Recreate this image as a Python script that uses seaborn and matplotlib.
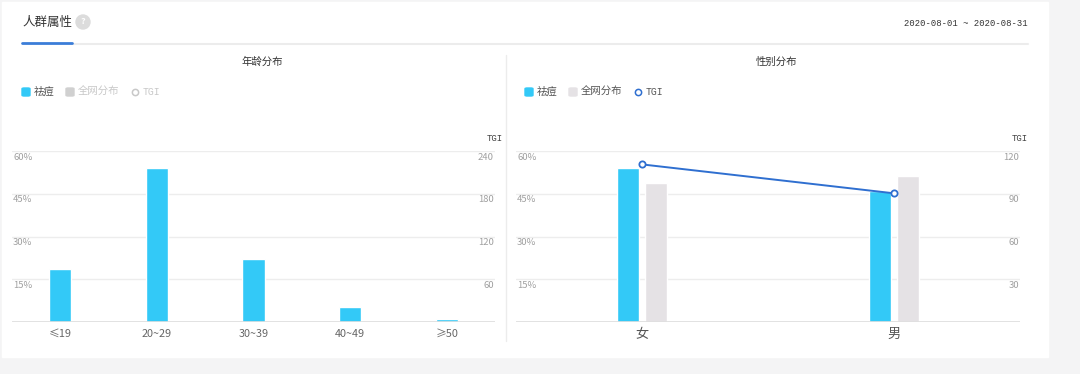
import seaborn as sns
import matplotlib.pyplot as plt
import matplotlib.patches as mpatches
import pandas as pd

# data
age_groups = ['≤19', '20~29', '30~39', '40~49', '≥50']
age_share = [18.6, 53.9, 22.0, 5.2, 0.9]

genders = ['女', '男']
gender_share = [54.2, 45.8]
gender_all = [48.9, 51.1]
gender_tgi = [110.6, 90.3]

pct_ticks = [15, 30, 45, 60]
tgi_ticks_age = [60, 120, 180, 240]
tgi_ticks_gender = [30, 60, 90, 120]

BLUE = '#33c9f7'
GRAY_BAR = '#e5e2e5'
LINE = '#2f6fd0'
TICK = '#a0a0a0'

sns.set_theme(style='white')
plt.rcParams['font.family'] = ['Noto Sans CJK SC', 'DejaVu Sans']

W, H = 1080, 374
fig = plt.figure(figsize=(W / 100, H / 100), dpi=100, facecolor='#f4f4f5')


def fx(x):
    return x / W


def fy(y):
    return 1 - y / H


# white card
fig.patches.append(mpatches.Rectangle((fx(2), fy(357)), fx(1046), (357 - 2) / H,
                                      transform=fig.transFigure, color='white', zorder=-5))

# header
fig.text(fx(22), fy(22), '人群属性', fontsize=9, color='#333333', va='center')
fig.patches.append(mpatches.Ellipse((fx(83), fy(22)), 14 / W, 14 / H, transform=fig.transFigure,
                                    color='#dcdcdc', zorder=1))
fig.text(fx(83), fy(22), '?', fontsize=6.5, color='white', ha='center', va='center',
         fontweight='bold')
fig.add_artist(plt.Line2D([fx(72), fx(1028)], [fy(44), fy(44)], color='#ececec', lw=1.5))
fig.add_artist(plt.Line2D([fx(22), fx(72)], [fy(43), fy(43)], color='#3b7dd8', lw=2))
fig.text(fx(1028), fy(23), '2020-08-01 ~ 2020-08-31', fontsize=6.4, color='#333333',
         ha='right', va='center', family='Liberation Mono')

# vertical divider
fig.add_artist(plt.Line2D([fx(506), fx(506)], [fy(55), fy(341)], color='#ececec', lw=1))

# titles
fig.text(fx(262), fy(62), '年龄分布', fontsize=7.5, color='#333333', ha='center', va='center')
fig.text(fx(776), fy(62), '性别分布', fontsize=7.5, color='#333333', ha='center', va='center')


def legend(x0, all_on):
    y = fy(92)
    on_txt, off_txt = '#555555', '#c8c8c8'
    fig.patches.append(mpatches.FancyBboxPatch((fx(x0), fy(96)), 8 / W, 8 / H,
                       boxstyle='round,pad=0,rounding_size=0.002', transform=fig.transFigure,
                       color=BLUE))
    fig.text(fx(x0 + 12), y, '祛痘', fontsize=7.5, color=on_txt, va='center')
    fig.patches.append(mpatches.FancyBboxPatch((fx(x0 + 44), fy(96)), 8 / W, 8 / H,
                       boxstyle='round,pad=0,rounding_size=0.002', transform=fig.transFigure,
                       color=GRAY_BAR if all_on else '#d0d0d0'))
    fig.text(fx(x0 + 56), y, '全网分布', fontsize=7.5, color=on_txt if all_on else off_txt,
             va='center')
    fig.add_artist(plt.Line2D([fx(x0 + 113)], [y], marker='o', ms=4.5, mfc='white',
                              mec=LINE if all_on else '#c8c8c8', mew=1.1))
    fig.text(fx(x0 + 121), y, 'TGI', fontsize=7, color=on_txt if all_on else off_txt,
             va='center', family='Liberation Mono')


legend(22, False)
legend(525, True)


def style_axes(ax, ax2, pct, tgi, x_right_px):
    ax.set_ylim(0, 60)
    ax2.set_ylim(0, max(tgi))
    ax.set_yticks([0] + pct)
    ax2.set_yticks([0] + tgi)
    ax.set_yticklabels([])
    ax2.set_yticklabels([])
    for a in (ax, ax2):
        a.tick_params(length=0)
        for s in a.spines.values():
            s.set_visible(False)
        a.set_facecolor('none')
    ax.grid(axis='y', color='#ededed', lw=1)
    ax.grid(axis='x', visible=False)
    ax2.grid(False)
    ax.axhline(0, color='#dedede', lw=1.2, zorder=1)
    ax.set_xlabel('')
    ax.set_ylabel('')
    ax2.set_ylabel('')
    for v in pct:
        ax.annotate(f'{v}%', xy=(0, v), xycoords=('axes fraction', 'data'),
                    xytext=(1, -6), textcoords='offset pixels', ha='left', va='center',
                    fontsize=6.8, color=TICK)
    for v in tgi:
        ax2.annotate(f'{v}', xy=(1, v), xycoords=('axes fraction', 'data'),
                     xytext=(-1, -6), textcoords='offset pixels', ha='right', va='center',
                     fontsize=6.8, color=TICK)
    fig.text(fx(x_right_px), fy(139), 'TGI', fontsize=6.5, color='#444444', ha='right',
             va='center', family='Liberation Mono')


# left: age distribution
ax_l = fig.add_axes([fx(12), fy(322), (495 - 12) / W, (322 - 151) / H])
sns.barplot(x=age_groups, y=age_share, color=BLUE, width=0.228, saturation=1, ax=ax_l)
ax_l.set_xlim(-0.5, len(age_groups) - 0.5)
ax_l2 = ax_l.twinx()
style_axes(ax_l, ax_l2, pct_ticks, tgi_ticks_age, 503)
ax_l.tick_params(axis='x', labelsize=7.8, labelcolor='#666666', pad=5)

# right: gender distribution
ax_r = fig.add_axes([fx(516), fy(322), (1020 - 516) / W, (322 - 151) / H])
df = pd.DataFrame({
    'gender': genders * 2,
    'share': gender_share + gender_all,
    'series': ['祛痘'] * len(genders) + ['全网分布'] * len(genders),
})
sns.barplot(data=df, x='gender', y='share', hue='series', palette=[BLUE, GRAY_BAR],
            width=0.22, gap=0.23, saturation=1, legend=False, ax=ax_r)
ax_r.set_xlim(-0.5, len(genders) - 0.5)
ax_r2 = ax_r.twinx()
ax_r2.plot(range(len(genders)), gender_tgi, color=LINE, lw=1.4, marker='o', ms=4.5,
           mfc='white', mec=LINE, mew=1.3, zorder=5)
ax_r2.set_xlim(-0.5, len(genders) - 0.5)
style_axes(ax_r, ax_r2, pct_ticks, tgi_ticks_gender, 1028)
ax_r.tick_params(axis='x', labelsize=9.5, labelcolor='#555555', pad=4)

plt.savefig('out.png', dpi=100, facecolor=fig.get_facecolor())
